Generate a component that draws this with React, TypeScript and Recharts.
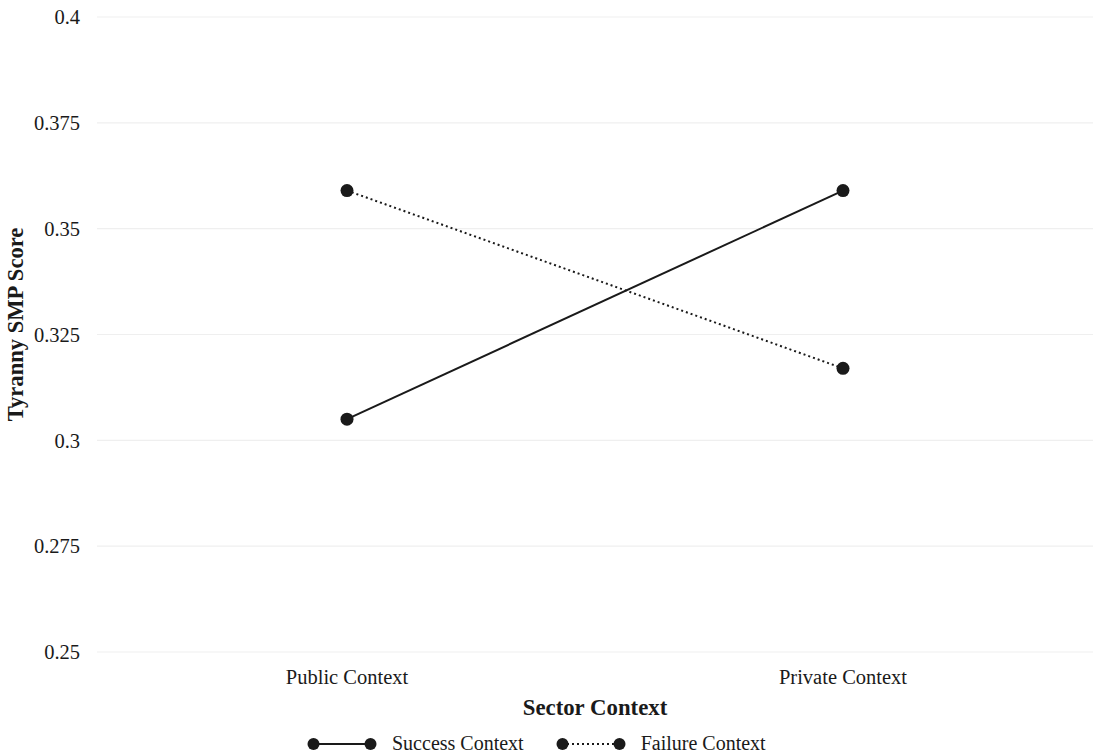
import React from 'react';
import { LineChart, Line, XAxis, YAxis, CartesianGrid, Legend } from 'recharts';

const sectors = ['Public Context', 'Private Context'];
const successScores = [0.305, 0.359];
const failureScores = [0.359, 0.317];
const yTicks = [0.25, 0.275, 0.3, 0.325, 0.35, 0.375, 0.4];

const data = sectors.map((sector, i) => ({
  sector,
  success: successScores[i],
  failure: failureScores[i],
}));

const FONT = '"Liberation Serif", "Times New Roman", serif';
const INK = '#1a1a1a';

const seriesKeys = [
  { name: 'Success Context', dash: undefined as string | undefined },
  { name: 'Failure Context', dash: '2 3' },
];

const LegendContent = () => (
  <div style={{ display: 'flex', alignItems: 'center', fontFamily: FONT, fontSize: 20, color: INK }}>
    {seriesKeys.map((s, i) => (
      <div key={s.name} style={{ display: 'flex', alignItems: 'center', marginRight: i === 0 ? 32 : 0 }}>
        <svg width={70} height={14} style={{ marginRight: 15 }}>
          <line x1={6} y1={7} x2={64} y2={7} stroke={INK} strokeWidth={2} strokeDasharray={s.dash} />
          <circle cx={6.5} cy={7} r={6} fill={INK} />
          <circle cx={63.5} cy={7} r={6} fill={INK} />
        </svg>
        <span>{s.name}</span>
      </div>
    ))}
  </div>
);

const YLabel = (props: any) => {
  const vb = props.viewBox || {};
  const cy = vb.y + vb.height / 2 - 10;
  return (
    <text
      x={15}
      y={cy}
      transform={`rotate(-90, 15, ${cy})`}
      textAnchor="middle"
      dominantBaseline="central"
      fontFamily={FONT}
      fontWeight="bold"
      fontSize={22.6}
      fill={INK}
    >
      Tyranny SMP Score
    </text>
  );
};

export default function App() {
  return (
    <div style={{ position: 'absolute', left: 0, top: 0, width: 1094, height: 754, background: '#fff' }}>
      <LineChart width={1094} height={754} data={data} margin={{ top: 17, right: 1, bottom: 32, left: 0 }}>
        <CartesianGrid vertical={false} stroke="#efefef" strokeWidth={1.2} />
        <XAxis
          dataKey="sector"
          padding={{ left: 250, right: 250 }}
          axisLine={false}
          tickLine={false}
          tickSize={6}
          tickMargin={11}
          height={70}
          tick={{ fontFamily: FONT, fontSize: 20.5, fill: INK }}
          label={{
            value: 'Sector Context',
            position: 'insideBottom',
            offset: 7,
            fontFamily: FONT,
            fontWeight: 'bold',
            fontSize: 22.8,
            fill: INK,
          }}
        />
        <YAxis
          domain={[0.25, 0.4]}
          ticks={yTicks}
          width={97}
          axisLine={false}
          tickLine={false}
          tickSize={6}
          tickMargin={11}
          tick={{ fontFamily: FONT, fontSize: 20.5, fill: INK }}
          label={<YLabel />}
        />
        <Legend
          layout="horizontal"
          verticalAlign="middle"
          align="center"
          wrapperStyle={{ top: 732, left: 307, width: 'auto' }}
          content={<LegendContent />}
        />
        <Line
          dataKey="success"
          name="Success Context"
          stroke={INK}
          strokeWidth={2}
          dot={{ r: 6.5, fill: INK, stroke: INK, strokeWidth: 0 }}
          isAnimationActive={false}
        />
        <Line
          dataKey="failure"
          name="Failure Context"
          stroke={INK}
          strokeWidth={2}
          strokeDasharray="2 3"
          dot={{ r: 6.5, fill: INK, stroke: INK, strokeWidth: 0 }}
          isAnimationActive={false}
        />
      </LineChart>
    </div>
  );
}
